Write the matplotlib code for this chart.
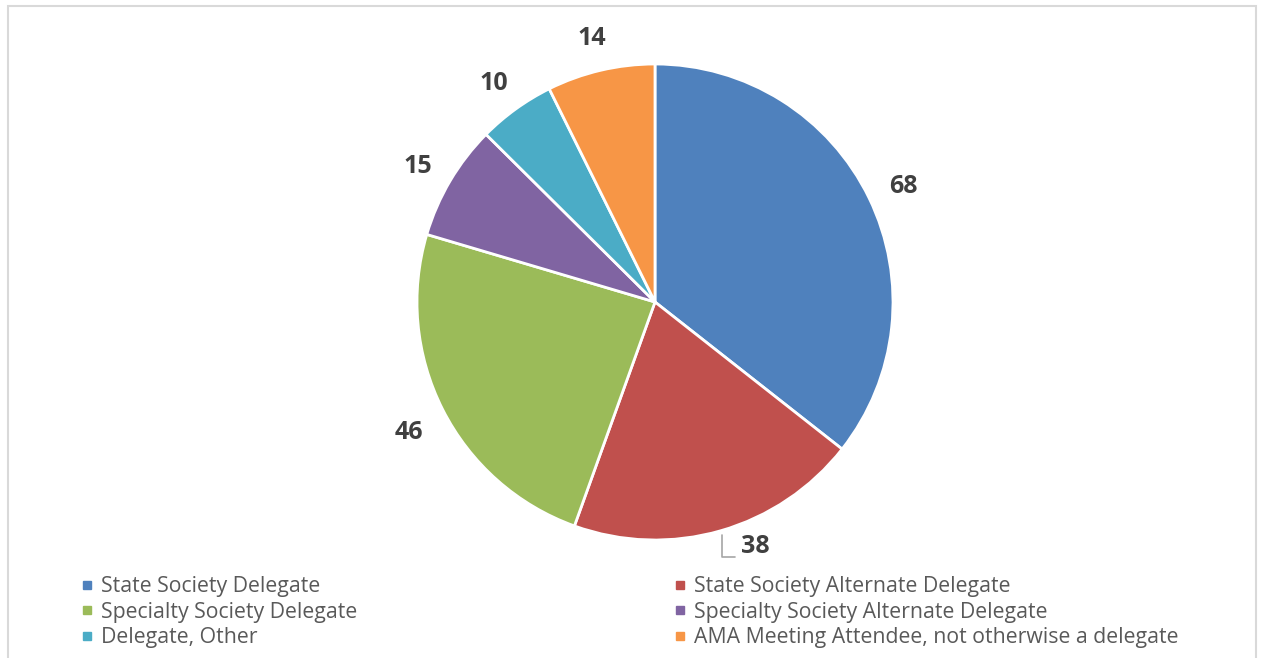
import numpy as np
import matplotlib.pyplot as plt
from matplotlib.lines import Line2D
from matplotlib.patches import Rectangle

# Данные
categories = ['State Society Delegate', 'State Society Alternate Delegate',
              'Specialty Society Delegate', 'Specialty Society Alternate Delegate',
              'Delegate, Other', 'AMA Meeting Attendee, not otherwise a delegate']
values = [68, 38, 46, 15, 10, 14]
colors = ['#4F81BD', '#C0504D', '#9BBB59', '#8064A2', '#4BACC6', '#F79646']

plt.rcParams['font.family'] = ['Open Sans', 'DejaVu Sans']

W, H = 1263, 658
fig = plt.figure(figsize=(W / 100, H / 100), dpi=100)

# рамка диаграммы
fig.patches.append(Rectangle((8 / W, -0.05), (1256 - 8) / W, 1.05 - 6 / H,
                             transform=fig.transFigure, fill=False,
                             edgecolor='#d9d9d9', linewidth=1.5))

cx, cy, R = 655, 302, 238
ax = fig.add_axes([(cx - R) / W, (H - cy - R) / H, 2 * R / W, 2 * R / H])

wedges, _ = ax.pie(values, colors=colors, startangle=90, counterclock=False,
                   radius=1, wedgeprops=dict(edgecolor='white', linewidth=2))
ax.set_xlim(-1, 1)
ax.set_ylim(-1, 1)
ax.axis('off')

# подписи значений
lbl_kw = dict(fontsize=18, fontweight='bold', color='#404040')
for i, (w, v) in enumerate(zip(wedges, values)):
    ang = np.deg2rad((w.theta1 + w.theta2) / 2)
    x, y = np.cos(ang), np.sin(ang)
    if i == 1:
        # подпись сдвинута, с выноской
        ax.annotate(str(v), xy=(1.02 * x, 1.02 * y), xytext=(14, -8),
                    textcoords='offset points', ha='left', va='center',
                    annotation_clip=False,
                    arrowprops=dict(arrowstyle='-', color='#a6a6a6', lw=1.2,
                                    connectionstyle='angle,angleA=0,angleB=90,rad=0',
                                    relpos=(0, 0.08), shrinkA=3, shrinkB=0),
                    **lbl_kw)
    else:
        ax.text(1.16 * x, 1.16 * y - 0.01, str(v), ha='center', va='center_baseline',
                clip_on=False, **lbl_kw)

handles = [Line2D([], [], marker='s', linestyle='', markersize=6,
                  markerfacecolor=c, markeredgecolor=c) for c in colors]

leg_kw = dict(frameon=False, fontsize=15.3, labelcolor='#595959', loc='upper left',
              handlelength=0.6, handletextpad=0.35, labelspacing=0.22,
              borderaxespad=0, borderpad=0)
leg1 = fig.legend(handles[0::2], categories[0::2],
                  bbox_to_anchor=(81 / W, 1 - 576 / H), **leg_kw)
leg2 = fig.legend(handles[1::2], categories[1::2],
                  bbox_to_anchor=(674 / W, 1 - 576 / H), **leg_kw)

fig.savefig('out.png', dpi=100)
